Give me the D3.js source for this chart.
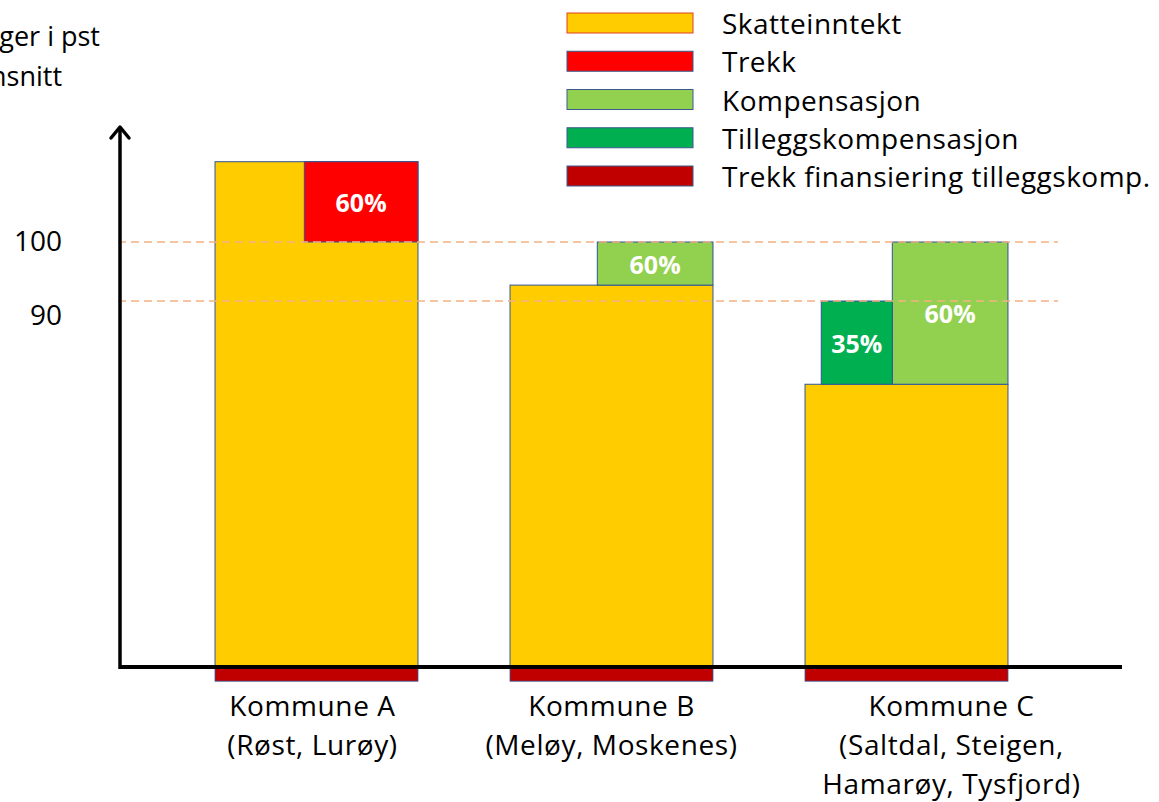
<!DOCTYPE html>
<html><head><meta charset="utf-8">
<script src="https://cdn.jsdelivr.net/npm/d3@7"></script>
<style>body{margin:0;background:#fff;overflow:hidden}svg{display:block}</style>
</head><body><svg id="c" width="1159" height="802"></svg>
<script>
// ---- data ----
const categories = ["Kommune A", "Kommune B", "Kommune C"];
const categoryLines = [["Kommune A", "(Røst, Lurøy)"], ["Kommune B", "(Meløy, Moskenes)"], ["Kommune C", "(Saltdal, Steigen,", "Hamarøy, Tysfjord)"]];
const skatteinntekt = [113.6, 92.7, 75.9];
const trekk = [13.6, 0, 0];            // drawn downward from top of skatteinntekt
const kompensasjon = [0, 7.3, 24.1];
const tilleggskompensasjon = [0, 0, 14.1];
const trekkFinansiering = [2.4, 2.4, 2.4];
const trekkPct = ["60%", null, null];
const kompPct = [null, "60%", "60%"];
const tilleggPct = [null, null, "35%"];
const tickValues = [90, 100];
const tickLabels = ["90", "100"];
const legendLabels = ["Skatteinntekt", "Trekk", "Kompensasjon", "Tilleggskompensasjon", "Trekk finansiering tilleggskomp."];
const titleLines = ["Skatteinntekt etter utjevninger i pst", "av landsgjennomsnitt"];

// ---- style / layout ----
const colors = {skatt: "#ffcc00", trekk: "#ff0000", komp: "#92d050", tillegg: "#00b050", fin: "#c00000"};
const legendColors = [colors.skatt, colors.trekk, colors.komp, colors.tillegg, colors.fin];
const legendStroke = ["#e04020", "#3a5a8c", "#3a5a8c", "#3a5a8c", "#3a5a8c"];
const slot = {trekk: [0.44, 1], komp: [0.43, 1], tillegg: [0.08, 0.43]};
const labelShift = [-4, 0, 45];
const font = "'Open Sans', 'Noto Sans', sans-serif";
const edge = "#2f5597";

const svg = d3.select("#c");
const y = d3.scaleLinear().domain([28, 100]).range([667, 242]);
const x = d3.scaleBand().domain(categories).range([169, 1054]).paddingInner(0.312).paddingOuter(0.156);
const bw = x.bandwidth();

const gBars = svg.append("g");
// main bars
gBars.selectAll("rect.skatt").data(categories).join("rect")
  .attr("x", d => x(d)).attr("width", bw)
  .attr("y", (d, i) => y(skatteinntekt[i])).attr("height", (d, i) => y(y.domain()[0]) - y(skatteinntekt[i]))
  .attr("fill", colors.skatt).attr("stroke", edge).attr("stroke-width", 1);

function seg(vals, key, color, fromTopDown) {
  const items = categories.map((c, i) => ({c, i, v: vals[i]})).filter(d => d.v > 0);
  return gBars.selectAll(null).data(items).join("rect")
    .attr("x", d => x(d.c) + slot[key][0] * bw)
    .attr("width", (slot[key][1] - slot[key][0]) * bw)
    .attr("y", d => fromTopDown ? y(skatteinntekt[d.i]) : y(skatteinntekt[d.i] + d.v))
    .attr("height", d => Math.abs(y(skatteinntekt[d.i]) - y(skatteinntekt[d.i] + (fromTopDown ? -d.v : d.v))))
    .attr("fill", color).attr("stroke", edge).attr("stroke-width", 1);
}
seg(trekk, "trekk", colors.trekk, true);
seg(kompensasjon, "komp", colors.komp, false);
seg(tilleggskompensasjon, "tillegg", colors.tillegg, false);

// finansiering strips below axis
const base = y.domain()[0];
gBars.selectAll(null).data(categories).join("rect")
  .attr("x", d => x(d)).attr("width", bw)
  .attr("y", y(base)).attr("height", (d, i) => y(base - trekkFinansiering[i]) - y(base))
  .attr("fill", colors.fin).attr("stroke", edge).attr("stroke-width", 0.8);

// percent labels
function pctLabels(vals, pcts, key, fromTopDown) {
  const items = categories.map((c, i) => ({c, i, v: vals[i], p: pcts[i]})).filter(d => d.p);
  svg.selectAll(null).data(items).join("text")
    .attr("x", d => x(d.c) + (slot[key][0] + slot[key][1]) / 2 * bw)
    .attr("y", d => { const s = skatteinntekt[d.i]; const e = fromTopDown ? s - d.v : s + d.v; return y((s + e) / 2); })
    .attr("text-anchor", "middle").attr("dominant-baseline", "central")
    .attr("fill", "#fff").attr("font-weight", "bold").attr("font-size", 25).attr("font-family", font)
    .text(d => d.p);
}
pctLabels(trekk, trekkPct, "trekk", true);
pctLabels(kompensasjon, kompPct, "komp", false);
pctLabels(tilleggskompensasjon, tilleggPct, "tillegg", false);

// dashed reference lines
svg.selectAll("line.ref").data(tickValues).join("line")
  .attr("x1", 118).attr("x2", 1058)
  .attr("y1", d => y(d)).attr("y2", d => y(d))
  .attr("stroke", "#f4b183").attr("stroke-width", 1.6).attr("stroke-dasharray", "8,5");

// axes
svg.append("line").attr("x1", 120).attr("x2", 1122).attr("y1", y(base)).attr("y2", y(base))
  .attr("stroke", "#000").attr("stroke-width", 4);
svg.append("line").attr("x1", 120).attr("x2", 120).attr("y1", y(base) + 2).attr("y2", 128)
  .attr("stroke", "#000").attr("stroke-width", 3.5);
svg.append("path").attr("d", "M111,138 L120,127 L129,138").attr("fill", "none")
  .attr("stroke", "#000").attr("stroke-width", 3.5).attr("stroke-linecap", "round").attr("stroke-linejoin", "round");

// tick labels
const tickDy = [13, -2];
svg.selectAll("text.tick").data(tickValues).join("text")
  .attr("x", 62).attr("y", (d, i) => y(d) + tickDy[i])
  .attr("text-anchor", "end").attr("dominant-baseline", "central")
  .attr("font-size", 28).attr("font-family", font).attr("fill", "#000")
  .text((d, i) => tickLabels[i]);

// title (cut off at left, as in the reference)
svg.selectAll("text.title").data(titleLines).join("text")
  .attr("x", (d, i) => i === 0 ? 100 : 62).attr("y", (d, i) => 35 + i * 40)
  .attr("text-anchor", "end").attr("dominant-baseline", "central")
  .attr("font-size", 27).attr("font-family", font).attr("fill", "#000")
  .text(d => d);

// category labels
const cl = svg.selectAll("g.cat").data(categories).join("g");
cl.each(function(d, i) {
  d3.select(this).selectAll("text").data(categoryLines[i]).join("text")
    .attr("x", x(d) + bw / 2 + labelShift[i]).attr("y", (t, j) => 705 + j * 39)
    .attr("text-anchor", "middle").attr("dominant-baseline", "central")
    .attr("font-size", 28).attr("letter-spacing", 0.6).attr("font-family", font).attr("fill", "#000")
    .text(t => t);
});

// legend
const lg = svg.append("g");
const ly = d3.scalePoint().domain(legendLabels).range([23, 176]);
lg.selectAll("rect").data(legendLabels).join("rect")
  .attr("x", 567).attr("width", 126).attr("y", d => ly(d) - 10).attr("height", 20)
  .attr("fill", (d, i) => legendColors[i]).attr("stroke", (d, i) => legendStroke[i]).attr("stroke-width", 1);
lg.selectAll("text").data(legendLabels).join("text")
  .attr("x", 722).attr("y", d => ly(d))
  .attr("dominant-baseline", "central")
  .attr("font-size", 28).attr("letter-spacing", 0.5).attr("font-family", font).attr("fill", "#000")
  .text(d => d);
</script></body></html>
